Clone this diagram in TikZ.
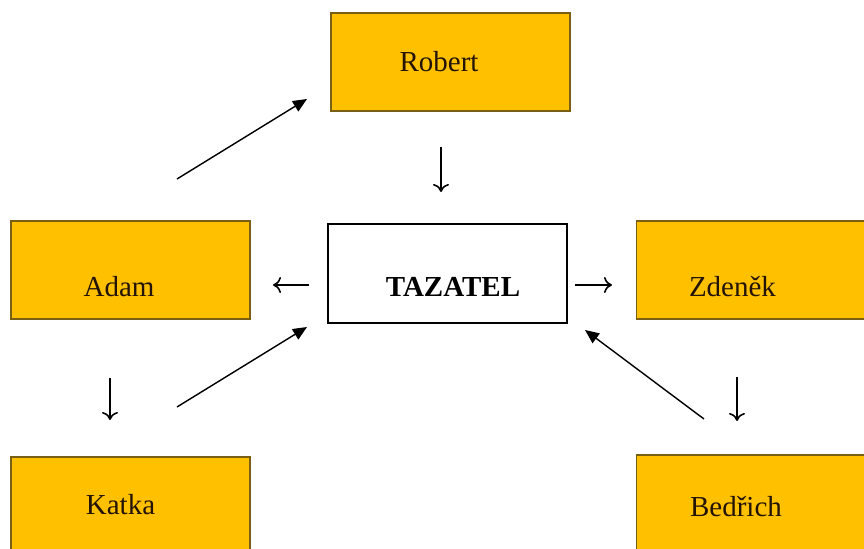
\documentclass[tikz,border=0pt]{standalone}
\usepackage{fontspec}
\setmainfont{Liberation Serif}
\usetikzlibrary{arrows.meta,positioning}
\definecolor{boxfill}{RGB}{255,192,0}
\definecolor{boxline}{RGB}{120,95,20}
\definecolor{ink}{RGB}{35,20,5}

\begin{document}
\begin{tikzpicture}[x=0.5pt,y=-0.5pt,
			box/.style={draw=boxline,fill=boxfill,line width=0.6pt,minimum width=119.5pt,minimum height=49pt,inner sep=0pt},
			who/.style={font=\fontsize{14.5}{17}\selectfont,text=ink,text height=10pt,text depth=0pt,inner sep=0pt},
			glyph/.style={-{To[length=4pt,width=8pt,line width=0.8pt]},line width=0.7pt},
			pointer/.style={-{Triangle[length=7pt,width=6pt]},line width=0.7pt}]
			\useasboundingbox (0,0) rectangle (864,549);
			\clip (0,0) rectangle (864,549);
			\node [box,label={[who,shift={(-11.5,0)}]center:Robert}] (robert) at (450.5,62) {};
			\node [box,label={[who,shift={(-11.5,17)}]center:Adam}] (adam) at (130.5,270) {};
			\node [box,draw=black,fill=white,minimum height=49.5pt,
				label={[who,text=black,font=\fontsize{14.5}{17}\selectfont\bfseries,shift={(5.5,13.5)}]center:TAZATEL}] (tazatel) at (447.5,273.5) {};
			\node [box,label={[who,shift={(-23.5,17)}]center:Zdeněk}] (zdenek) at (756,270) {};
			\node [box,label={[who,shift={(-10,-1)}]center:Katka}] (katka) at (130.5,506) {};
			\node [box,label={[who,shift={(-20,3)}]center:Bedřich}] (bedrich) at (756,504) {};
			\coordinate (robert-in) at (177,179);
			\coordinate (robert-tip) at (307,99);
			\coordinate (katka-out) at (177,407);
			\coordinate (tazatel-sw) at (307,327);
			\coordinate (bedrich-out) at (704,419);
			\coordinate (tazatel-se) at (585,330);
			\coordinate (down-top) at (441,147);
			\coordinate (down-bot) at (441,192);
			\coordinate (left-from) at (309,285);
			\coordinate (left-to) at (273,285);
			\coordinate (right-from) at (575,285);
			\coordinate (right-to) at (612,285);
			\coordinate (adam-top) at (110,378);
			\coordinate (adam-bot) at (110,420);
			\coordinate (zdenek-top) at (737,377);
			\coordinate (zdenek-bot) at (737,421);
			\draw [pointer] (robert-in) -- (robert-tip);
			\draw [pointer] (katka-out) -- (tazatel-sw);
			\draw [pointer] (bedrich-out) -- (tazatel-se);
			\draw [glyph] (down-top) -- (down-bot);
			\draw [glyph] (left-from) -- (left-to);
			\draw [glyph] (right-from) -- (right-to);
			\draw [glyph] (adam-top) -- (adam-bot);
			\draw [glyph] (zdenek-top) -- (zdenek-bot);
		\end{tikzpicture}
\end{document}
